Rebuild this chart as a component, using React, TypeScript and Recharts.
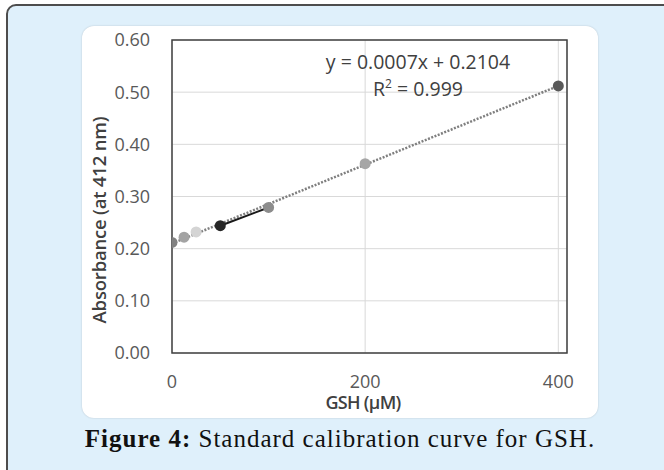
import React from 'react';
import {
  ComposedChart, XAxis, YAxis, CartesianGrid, Line, Scatter, Cell, ReferenceArea,
} from 'recharts';

// Data
const gshConc = [0, 12.5, 25, 50, 100, 200, 400];
const absorbance = [0.212, 0.222, 0.232, 0.244, 0.279, 0.363, 0.512];
const pointColors = ['#808080', '#a3a3a3', '#d4d4d4', '#262626', '#8c8c8c', '#a6a6a6', '#595959'];

const trendX = [0, 400];
const trendY = [0.21, 0.512];

const segmentX = [50, 100];
const segmentY = [0.244, 0.279];

const xTicks = [0, 200, 400];
const yTicks = [0, 0.1, 0.2, 0.3, 0.4, 0.5, 0.6];
const xMax = 409;
const yMax = 0.6;

const equationText = 'y = 0.0007x + 0.2104';
const r2Value = '0.999';
const xTitle = 'GSH (µM)';
const yTitle = 'Absorbance (at 412 nm)';
const captionBold = 'Figure 4:';
const captionRest = ' Standard calibration curve for GSH.';

const points = gshConc.map((x, i) => ({ x, y: absorbance[i] }));
const trendData = trendX.map((x, i) => ({ x, y: trendY[i] }));
const segmentData = segmentX.map((x, i) => ({ x, y: segmentY[i] }));

const sans = '"Open Sans", "Noto Sans", sans-serif';

const Dot = (props: any) => {
  const { cx, cy, fill } = props;
  if (cx == null || cy == null) return null;
  return <circle cx={cx} cy={cy} r={5.5} fill={fill} />;
};

export default function App() {
  return (
    <div style={{ position: 'absolute', left: 0, top: 0, width: 664, height: 470, overflow: 'hidden', background: '#ffffff' }}>
      <div
        style={{
          position: 'absolute', left: 6, top: 4, width: 720, height: 520,
          background: '#dff0fb', border: '2px solid #4d4d4d', borderRadius: 10, boxSizing: 'border-box',
        }}
      />
      <div
        style={{
          position: 'absolute', left: 82, top: 26, width: 516, height: 392,
          background: '#ffffff', borderRadius: 12, boxShadow: '0 0 2px rgba(0,0,0,0.18)',
        }}
      >
        <ComposedChart
          width={516}
          height={392}
          margin={{ top: 14, right: 31, bottom: 0, left: 0 }}
          style={{ fontFamily: sans }}
        >
          <CartesianGrid stroke="#d9d9d9" strokeWidth={1} />
          <XAxis
            type="number"
            dataKey="x"
            domain={[0, xMax]}
            ticks={xTicks}
            allowDataOverflow
            axisLine={false}
            tickLine={false}
            tickSize={0}
            tickMargin={22}
            height={65}
            tick={{ fontSize: 18, fill: '#595959', fontFamily: sans }}
          />
          <YAxis
            type="number"
            dataKey="y"
            domain={[0, yMax]}
            ticks={yTicks}
            allowDataOverflow
            axisLine={false}
            tickLine={false}
            tickSize={0}
            tickMargin={22}
            width={90}
            tickFormatter={(v: number) => v.toFixed(2)}
            tick={{ fontSize: 18, fill: '#595959', fontFamily: sans }}
          />
          <ReferenceArea x1={0} x2={xMax} y1={0} y2={yMax} fill="none" stroke="#404040" strokeWidth={1.5} fillOpacity={0} />
          <Line
            data={trendData}
            dataKey="y"
            type="linear"
            stroke="#7f7f7f"
            strokeWidth={2.5}
            strokeDasharray="2 1.5"
            dot={false}
            activeDot={false}
            isAnimationActive={false}
          />
          <Line
            data={segmentData}
            dataKey="y"
            type="linear"
            stroke="#1a1a1a"
            strokeWidth={2}
            dot={false}
            activeDot={false}
            isAnimationActive={false}
          />
          <Scatter data={points} dataKey="y" shape={Dot} isAnimationActive={false}>
            {points.map((_, i) => (
              <Cell key={i} fill={pointColors[i]} />
            ))}
          </Scatter>
        </ComposedChart>
        <div
          style={{
            position: 'absolute', left: 17 - 110, top: 194 - 12, width: 220, height: 24,
            transform: 'rotate(-90deg)', textAlign: 'center', fontFamily: sans, fontSize: 18.5,
            fontWeight: 600, color: '#404040', lineHeight: '24px', whiteSpace: 'nowrap',
            letterSpacing: -0.2,
          }}
        >
          {yTitle}
        </div>
        <div
          style={{
            position: 'absolute', left: 281 - 100, top: 376 - 12, width: 200, height: 24,
            textAlign: 'center', fontFamily: sans, fontSize: 18, fontWeight: 600, color: '#404040',
            lineHeight: '24px', whiteSpace: 'nowrap', letterSpacing: -0.7,
          }}
        >
          {xTitle}
        </div>
        <div
          style={{
            position: 'absolute', left: 336 - 130, top: 36 - 12, width: 260, height: 24,
            textAlign: 'center', fontFamily: sans, fontSize: 19.5, color: '#404040',
            lineHeight: '24px', whiteSpace: 'nowrap',
          }}
        >
          {equationText}
        </div>
        <div
          style={{
            position: 'absolute', left: 336 - 130, top: 63 - 12, width: 260, height: 24,
            textAlign: 'center', fontFamily: sans, fontSize: 19.5, color: '#404040',
            lineHeight: '24px', whiteSpace: 'nowrap',
          }}
        >
          R<sup style={{ fontSize: 12, verticalAlign: 'top', lineHeight: '14px' }}>2</sup> = {r2Value}
        </div>
      </div>
      <div
        style={{
          position: 'absolute', left: 40, top: 424, width: 600, height: 30, textAlign: 'center',
          fontFamily: '"Liberation Serif", "DejaVu Serif", serif', fontSize: 25, color: '#111111',
          lineHeight: '30px', whiteSpace: 'nowrap', letterSpacing: 1,
        }}
      >
        <b>{captionBold}</b>{captionRest}
      </div>
    </div>
  );
}
